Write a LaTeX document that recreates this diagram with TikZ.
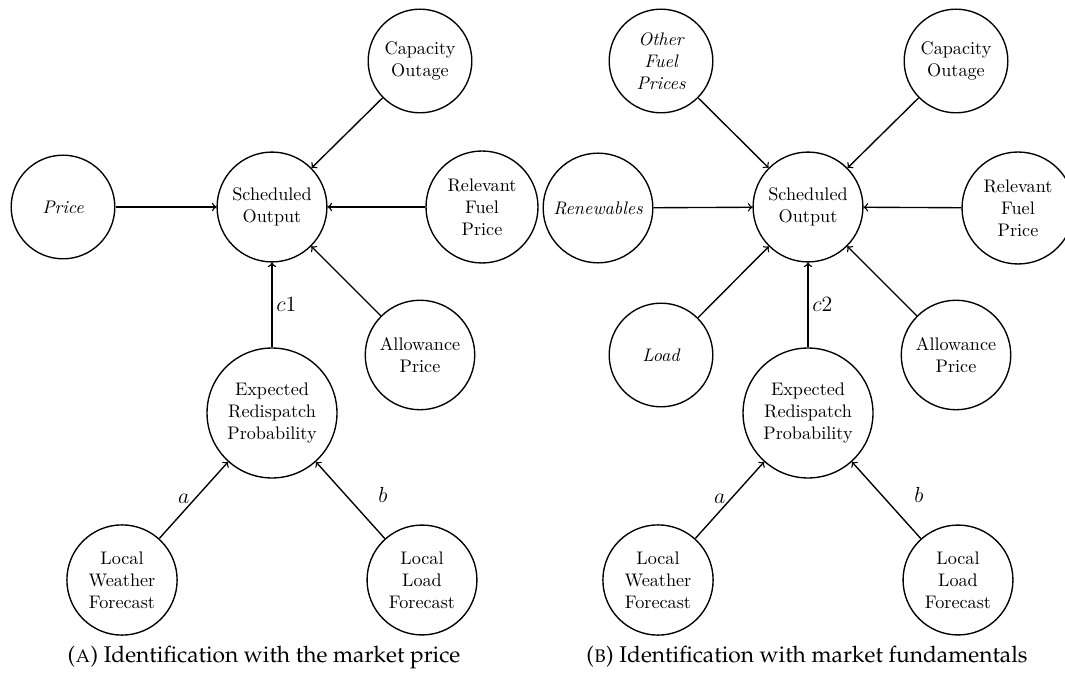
\documentclass[tikz,border=0pt]{standalone}
\usepackage[T1,TU]{fontenc}
\newcommand\capfont{\fontencoding{T1}\fontfamily{ppl}\fontsize{12.5}{15}\selectfont}
\begin{document}
\begin{tikzpicture}[x=0.55pt,y=-0.55pt,
  var/.style={circle,draw,line width=0.75pt,minimum size=57pt,inner sep=4.5pt,align=center},
  arr/.style={->,line width=0.75pt},
  lab/.style={inner sep=2pt,font=\large},
  subcap/.style={font=\capfont}]
\useasboundingbox (0,0) rectangle (1065,680);

% (a) identification with the market price
\node[var] (A-so) at (272,207) {Scheduled\\Output};
\node[var] (A-co) at (420,61) {Capacity\\Outage};
\node[var,font=\itshape] (A-pr) at (63,207) {Price};
\node[var] (A-rf) at (482,207) {Relevant\\Fuel\\Price};
\node[var] (A-al) at (420,355) {Allowance\\Price};
\node[var] (A-er) at (272,413) {Expected\\Redispatch\\Probability};
\node[var] (A-lw) at (122,580) {Local\\Weather\\Forecast};
\node[var] (A-ll) at (422,580) {Local\\Load\\Forecast};

\draw[arr] (A-co) -- (A-so);
\draw[arr] (A-pr) -- (A-so);
\draw[arr] (A-rf) -- (A-so);
\draw[arr] (A-al) -- (A-so);
\draw[arr] (A-er) -- node[lab,right] {$c1$} (A-so);
\draw[arr] (A-lw) -- node[lab,left,yshift=1pt] {$a$} (A-er);
\draw[arr] (A-ll) -- node[lab,right,xshift=13pt,yshift=3pt] {$b$} (A-er);

\node[subcap] (capA) at (264,657) {(\textsc{a}) Identification with the market price};

% (b) identification with market fundamentals
\node[var] (B-so) at (808,207) {Scheduled\\Output};
\node[var,font=\itshape] (B-of) at (661,61) {Other\\Fuel\\Prices};
\node[var] (B-co) at (956,61) {Capacity\\Outage};
\node[var,font=\itshape] (B-re) at (598,208) {Renewables};
\node[var] (B-rf) at (1018,208) {Relevant\\Fuel\\Price};
\node[var,font=\itshape] (B-lo) at (661,355) {Load};
\node[var] (B-al) at (956,355) {Allowance\\Price};
\node[var] (B-er) at (808,413) {Expected\\Redispatch\\Probability};
\node[var] (B-lw) at (658,580) {Local\\Weather\\Forecast};
\node[var] (B-ll) at (958,580) {Local\\Load\\Forecast};

\draw[arr] (B-of) -- (B-so);
\draw[arr] (B-co) -- (B-so);
\draw[arr] (B-re) -- (B-so);
\draw[arr] (B-rf) -- (B-so);
\draw[arr] (B-lo) -- (B-so);
\draw[arr] (B-al) -- (B-so);
\draw[arr] (B-er) -- node[lab,right] {$c2$} (B-so);
\draw[arr] (B-lw) -- node[lab,left,yshift=1pt] {$a$} (B-er);
\draw[arr] (B-ll) -- node[lab,right,xshift=13pt,yshift=3pt] {$b$} (B-er);

\node[subcap] (capB) at (807,657) {(\textsc{b}) Identification with market fundamentals};
\end{tikzpicture}
\end{document}
